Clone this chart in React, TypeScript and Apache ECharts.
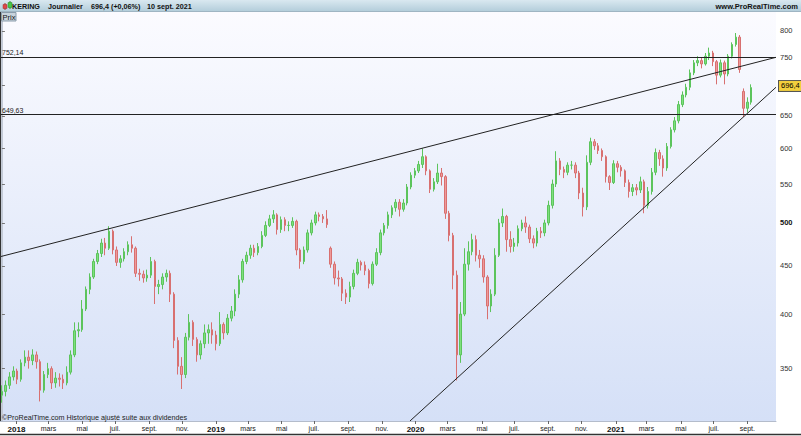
import React, { useEffect, useRef } from "react";
import * as echarts from "echarts";

// Weekly candles (KERING, daily chart), week of 4 Dec 2017 .. week of 6 Sep 2021
// [open, close, low, high]
const ohlc: number[][] = [
  [328, 331, 322, 336], [331, 336, 327, 340], [336, 343, 333, 347], [343, 348, 340, 352],
  [348, 341, 337, 350], [341, 355, 339, 358], [355, 360, 352, 366], [360, 357, 350, 366],
  [357, 362, 353, 367], [362, 356, 350, 365], [356, 332, 323, 358], [332, 345, 330, 348],
  [345, 350, 342, 355], [350, 338, 333, 352], [338, 342, 334, 347], [342, 341, 335, 346],
  [341, 338, 333, 345], [338, 347, 336, 352], [347, 362, 345, 366], [362, 384, 360, 392],
  [384, 385, 378, 392], [385, 405, 383, 414], [405, 425, 403, 428], [425, 438, 420, 442],
  [438, 455, 436, 458], [455, 464, 452, 468], [464, 476, 460, 481], [476, 470, 462, 482],
  [470, 490, 468, 496], [490, 468, 463, 492], [468, 454, 450, 472], [454, 458, 448, 462],
  [458, 466, 455, 470], [466, 474, 462, 478], [474, 470, 465, 484], [470, 442, 438, 472],
  [442, 441, 434, 447], [441, 437, 432, 445], [437, 440, 433, 446], [440, 455, 437, 460],
  [455, 428, 410, 457], [428, 430, 420, 435], [430, 438, 425, 442], [438, 442, 433, 446],
  [442, 420, 412, 445], [420, 375, 368, 422], [375, 352, 345, 378], [352, 345, 333, 360],
  [345, 378, 342, 382], [378, 392, 375, 400], [392, 376, 370, 394], [376, 362, 356, 378],
  [362, 372, 358, 375], [372, 382, 368, 390], [382, 385, 372, 390], [385, 380, 372, 392],
  [380, 372, 366, 384], [372, 390, 370, 402], [390, 382, 376, 392], [382, 396, 380, 400],
  [396, 403, 393, 408], [403, 420, 398, 425], [420, 435, 416, 440], [435, 455, 432, 458],
  [455, 462, 452, 466], [462, 470, 458, 474], [470, 465, 460, 474], [465, 472, 462, 476],
  [472, 485, 470, 490], [485, 497, 483, 502], [497, 505, 495, 510], [505, 510, 500, 516],
  [510, 492, 486, 512], [492, 504, 488, 508], [504, 497, 490, 507], [497, 497, 490, 502],
  [497, 502, 494, 507], [502, 468, 462, 504], [468, 455, 447, 470], [455, 468, 452, 472],
  [468, 488, 465, 492], [488, 500, 485, 504], [500, 510, 497, 514], [510, 508, 502, 513],
  [508, 505, 500, 511], [505, 498, 494, 516], [470, 452, 448, 472], [452, 437, 430, 455],
  [437, 436, 428, 445], [436, 421, 413, 438], [421, 417, 410, 425], [417, 428, 412, 433],
  [428, 442, 425, 446], [442, 454, 440, 458], [454, 451, 445, 456], [451, 445, 440, 455],
  [445, 431, 426, 447], [431, 452, 429, 455], [452, 465, 450, 470], [465, 488, 462, 492],
  [488, 497, 485, 500], [497, 510, 493, 514], [510, 519, 506, 522], [519, 526, 514, 530],
  [526, 517, 508, 530], [517, 525, 514, 530], [525, 546, 522, 550], [546, 562, 543, 566],
  [562, 568, 558, 572], [568, 577, 565, 582], [577, 588, 572, 600], [588, 568, 562, 590],
  [568, 543, 538, 570], [543, 553, 540, 558], [553, 565, 550, 578], [565, 560, 548, 572],
  [560, 512, 505, 562], [512, 485, 478, 515], [485, 440, 425, 488], [440, 362, 340, 445],
  [362, 400, 355, 412], [400, 452, 398, 470], [452, 466, 445, 478], [466, 480, 462, 487],
  [480, 462, 455, 485], [462, 458, 448, 468], [458, 438, 432, 462], [438, 408, 395, 440],
  [408, 420, 402, 425], [420, 462, 418, 470], [462, 500, 460, 505], [500, 508, 495, 518],
  [508, 480, 466, 510], [480, 472, 465, 490], [472, 476, 466, 482], [476, 493, 472, 497],
  [493, 500, 490, 504], [500, 495, 488, 508], [495, 481, 476, 498], [481, 476, 470, 485],
  [476, 490, 472, 494], [490, 488, 482, 495], [488, 500, 484, 504], [500, 522, 497, 528],
  [522, 550, 518, 556], [550, 582, 546, 596], [582, 570, 562, 586], [570, 566, 558, 574],
  [566, 576, 562, 580], [576, 576, 570, 582], [576, 565, 558, 580], [565, 538, 530, 568],
  [538, 520, 508, 545], [520, 580, 516, 590], [580, 610, 576, 616], [610, 604, 598, 614],
  [604, 597, 592, 608], [597, 588, 582, 600], [588, 560, 552, 590], [560, 552, 542, 562],
  [552, 578, 550, 583], [578, 573, 566, 582], [573, 568, 560, 576], [568, 552, 546, 570],
  [552, 540, 532, 556], [540, 545, 534, 550], [545, 542, 535, 550], [542, 553, 538, 560],
  [553, 522, 512, 556], [522, 540, 518, 546], [540, 566, 536, 572], [566, 594, 562, 600],
  [594, 585, 575, 598], [585, 572, 560, 590], [572, 603, 568, 608], [603, 628, 600, 632],
  [628, 642, 624, 648], [642, 668, 638, 674], [668, 684, 664, 690], [684, 697, 680, 703],
  [697, 722, 692, 728], [722, 740, 718, 745], [740, 744, 734, 752], [744, 738, 730, 750],
  [738, 752, 735, 758], [752, 758, 745, 768], [758, 742, 734, 762], [742, 718, 702, 745],
  [718, 740, 714, 746], [740, 720, 702, 744], [720, 752, 716, 756], [752, 774, 748, 778],
  [774, 788, 770, 796], [788, 728, 722, 792], [690, 662, 648, 695], [662, 672, 655, 680],
  [672, 696.4, 668, 702],
];

// x-axis: positions (in weeks from the first week) of the first trading day of each labelled month
const monthTickPos = [3.8, 12.2, 21, 29.6, 38.6, 47.2, 56, 64.4, 73.2, 81.6, 90.6, 99.4, 108.2, 116.6, 125.6, 134, 142.8, 151.6, 160.6, 168.6, 177.6, 186.2, 195];
const monthTickLabels = ["2018", "mars", "mai", "juil.", "sept.", "nov.", "2019", "mars", "mai", "juil.", "sept.", "nov.", "2020", "mars", "mai", "juil.", "sept.", "nov.", "2021", "mars", "mai", "juil.", "sept."];

// y-axis (log scale) ticks
const priceTicks = [350, 400, 450, 500, 550, 600, 650, 700, 750, 800];
const priceLabelTicks = [350, 400, 450, 500, 550, 600, 650, 750, 800];
const priceMin = 307.9;
const priceMax = 838;
const xMin = -0.5;
const xMax = 202.5;

// horizontal levels and trend lines: [week, price]
const levels = [752.14, 649.63];
const lastPrice = 696.4;
const upperTrend = [[-0.5, 460.3], [202.5, 750]];
const lowerTrend = [[106.75, 307.9], [202.5, 697]];

const FONT = '"Liberation Sans", Arial, sans-serif';

export default function App() {
  const ref = useRef<HTMLDivElement>(null);
  useEffect(() => {
    if (!ref.current) return;
    const chart = echarts.init(ref.current, undefined, { renderer: "svg" });
    const L = Math.log;
    const fmtNum = (v: number) => String(v).replace(".", ",");

    const option: any = {
      animation: false,
      backgroundColor: "#ffffff",
      textStyle: { fontFamily: FONT },
      grid: {
        left: 0,
        right: 25,
        top: 12,
        bottom: 15,
        show: true,
        borderWidth: 0,
        backgroundColor: {
          type: "linear", x: 0, y: 0, x2: 0, y2: 1,
          colorStops: [
            { offset: 0, color: "#fbfbff" },
            { offset: 1, color: "#d5e0f7" },
          ],
        },
      },
      xAxis: {
        type: "value",
        min: xMin,
        max: xMax,
        splitLine: { show: false },
        axisLine: { show: true, lineStyle: { color: "#b4bccb", width: 1 } },
        axisTick: { show: true, length: 3, lineStyle: { color: "#666" }, customValues: monthTickPos },
        axisLabel: {
          customValues: monthTickPos,
          margin: 4,
          fontSize: 7,
          color: "#222",
          formatter: (v: number) => {
            const i = monthTickPos.findIndex((p) => Math.abs(p - v) < 1e-6);
            const t = i >= 0 ? monthTickLabels[i] : "";
            return /^\d{4}$/.test(t) ? "{y|" + t + "}" : t;
          },
          rich: { y: { fontSize: 8, fontWeight: "bold", color: "#111", fontFamily: FONT } },
        },
      },
      yAxis: {
        type: "value",
        position: "right",
        min: L(priceMin),
        max: L(priceMax),
        splitLine: { show: false },
        axisLine: { show: true, lineStyle: { color: "#c3cad6", width: 2 } },
        axisTick: { show: true, length: 3, lineStyle: { color: "#777" }, customValues: priceTicks.map(L) },
        axisLabel: {
          customValues: priceLabelTicks.map(L),
          margin: 4,
          fontSize: 7.5,
          color: "#333",
          formatter: (v: number) => {
            const p = Math.round(Math.exp(v));
            return p === 500 ? "{b|500}" : String(p);
          },
          rich: { b: { fontSize: 7.5, fontWeight: "bold", color: "#111", fontFamily: FONT } },
        },
      },
      series: [
        {
          type: "candlestick",
          data: ohlc.map((d, i) => [i, L(d[0]), L(d[1]), L(d[2]), L(d[3])]),
          barWidth: 2,
          itemStyle: {
            color: "#7ee07e",
            color0: "#ee9a9a",
            borderColor: "#5cc45c",
            borderColor0: "#d87070",
            borderWidth: 1,
          },
          markLine: {
            silent: true,
            symbol: ["none", "none"],
            lineStyle: { color: "#222", width: 1, type: "solid" },
            label: { show: false },
            data: [
              [
                { coord: [upperTrend[0][0], L(upperTrend[0][1])] },
                { coord: [upperTrend[1][0], L(upperTrend[1][1])] },
              ],
              [
                { coord: [lowerTrend[0][0], L(lowerTrend[0][1])] },
                { coord: [lowerTrend[1][0], L(lowerTrend[1][1])] },
              ],
              ...levels.map((lv) => ({
                yAxis: L(lv),
                label: {
                  show: true,
                  position: "insideStartTop",
                  formatter: fmtNum(lv),
                  fontSize: 7,
                  color: "#222",
                  distance: [2, 1],
                },
              })),
              {
                yAxis: L(lastPrice),
                lineStyle: { color: "rgba(0,0,0,0)", width: 1 },
                label: {
                  show: true,
                  position: "end",
                  formatter: fmtNum(lastPrice),
                  fontSize: 7.5,
                  color: "#000",
                  backgroundColor: "#f2cf3e",
                  borderColor: "#555",
                  borderWidth: 1,
                  padding: [1, 2, 1, 2],
                  distance: 3,
                },
              },
            ],
          },
        },
      ],
      graphic: [
        {
          type: "rect",
          z: 100,
          shape: { x: 0, y: 0, width: 801, height: 11 },
          style: {
            fill: {
              type: "linear", x: 0, y: 0, x2: 0, y2: 1,
              colorStops: [
                { offset: 0, color: "#d9e8f0" },
                { offset: 1, color: "#b4cedb" },
              ],
            },
          },
        },
        { type: "line", z: 101, shape: { x1: 0, y1: 11.5, x2: 801, y2: 11.5 }, style: { stroke: "#9fb5c3", lineWidth: 1 } },
        { type: "line", z: 101, shape: { x1: 5, y1: 3, x2: 5, y2: 10 }, style: { stroke: "#a03030", lineWidth: 1 } },
        { type: "rect", z: 102, shape: { x: 3, y: 4.5, width: 4, height: 4 }, style: { fill: "#e04848", stroke: "#a03030", lineWidth: 0.5 } },
        { type: "line", z: 101, shape: { x1: 10, y1: 1, x2: 10, y2: 9 }, style: { stroke: "#2a8a2a", lineWidth: 1 } },
        { type: "rect", z: 102, shape: { x: 8, y: 2.5, width: 4, height: 5 }, style: { fill: "#48c848", stroke: "#2a8a2a", lineWidth: 0.5 } },
        { type: "text", z: 103, x: 12, y: 6, style: { text: "KERING", font: "bold 7.2px " + FONT, fill: "#111", verticalAlign: "middle" } },
        { type: "text", z: 103, x: 48, y: 6, style: { text: "Journalier", font: "bold 7.2px " + FONT, fill: "#111", verticalAlign: "middle" } },
        { type: "text", z: 103, x: 91, y: 6, style: { text: "696,4 (+0,06%)", font: "bold 7.2px " + FONT, fill: "#111", verticalAlign: "middle" } },
        { type: "text", z: 103, x: 147, y: 6, style: { text: "10 sept. 2021", font: "bold 7.2px " + FONT, fill: "#111", verticalAlign: "middle" } },
        { type: "text", z: 103, x: 798, y: 6, style: { text: "www.ProRealTime.com", font: "bold 7.5px " + FONT, fill: "#111", align: "right", verticalAlign: "middle" } },
        { type: "rect", z: 103, shape: { x: 1.5, y: 12.5, width: 14.5, height: 8.5 }, style: { fill: "#c8d3dc", stroke: "#8a9cab", lineWidth: 1 } },
        { type: "text", z: 104, x: 2.5, y: 17, style: { text: "Prix", font: "7.5px " + FONT, fill: "#111", verticalAlign: "middle" } },
        { type: "line", z: 100, shape: { x1: 0.5, y1: 12, x2: 0.5, y2: 421 }, style: { stroke: "#333", lineWidth: 1 } },
        { type: "text", z: 100, x: 2, y: 417, style: { text: "\u00a9ProRealTime.com Historique ajust\u00e9 suite aux dividendes", font: "7.2px " + FONT, fill: "#222", verticalAlign: "middle" } },
        { type: "line", z: 100, shape: { x1: 0, y1: 434.5, x2: 801, y2: 434.5 }, style: { stroke: "#333", lineWidth: 1.5 } },
      ],
    };
    chart.setOption(option);
    return () => chart.dispose();
  }, []);
  return <div ref={ref} style={{ position: "absolute", left: 0, top: 0, width: 801, height: 436 }} />;
}
